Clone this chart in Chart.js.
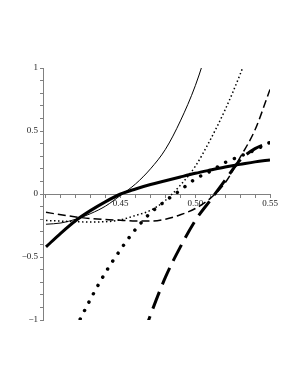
<!DOCTYPE html>
<html>
<head>
<meta charset="utf-8">
<script src="https://cdn.jsdelivr.net/npm/chart.js@4/dist/chart.umd.min.js"></script>
<style>
  html, body { margin: 0; padding: 0; background: #fff; }
  #wrap { width: 300px; height: 388px; }
</style>
</head>
<body>
<div id="wrap"><canvas id="plot" width="300" height="388"></canvas></div>
<script>
const xs = [0.40, 0.41, 0.42, 0.43, 0.44, 0.45, 0.46, 0.47, 0.48, 0.49, 0.50, 0.51, 0.52, 0.53, 0.54, 0.55];

const thinSolid = [-0.24, -0.23, -0.20, -0.155, -0.095, -0.01, 0.08, 0.20, 0.355, 0.58, 0.86, 1.22, null, null, null, null];
const fineDotted = [-0.21, -0.215, -0.22, -0.222, -0.22, -0.205, -0.17, -0.13, -0.05, 0.07, 0.22, 0.43, 0.67, 0.95, 1.27, null];
const thinDashed = [-0.145, -0.165, -0.182, -0.195, -0.203, -0.208, -0.215, -0.215, -0.20, -0.165, -0.115, -0.035, 0.09, 0.29, 0.51, 0.83];
const thickSolid = [-0.42, -0.31, -0.21, -0.13, -0.06, 0.0, 0.04, 0.075, 0.105, 0.135, 0.164, 0.19, 0.215, 0.235, 0.255, 0.27];
const thickDotted = [null, null, -1.06, -0.83, -0.62, -0.44, -0.28, -0.15, -0.055, 0.03, 0.12, 0.18, 0.25, 0.30, 0.35, 0.41];
const thickDashed = [null, null, null, null, null, null, -1.3, -0.96, -0.66, -0.42, -0.21, -0.05, 0.11, 0.27, 0.36, 0.41];

const xTicks = [0.40, 0.41, 0.42, 0.43, 0.44, 0.45, 0.46, 0.47, 0.48, 0.49, 0.50, 0.51, 0.52, 0.53, 0.54, 0.55];
const xLabelVals = [0.45, 0.50, 0.55];
const xLabelText = ["0.45", "0.50", "0.55"];

const yTicks = [-1, -0.9, -0.8, -0.7, -0.6, -0.5, -0.4, -0.3, -0.2, -0.1, 0, 0.1, 0.2, 0.3, 0.4, 0.5, 0.6, 0.7, 0.8, 0.9, 1];
const yLabelVals = [-1, -0.5, 0, 0.5, 1];
const yLabelText = ["\u22121", "\u22120.5", "0", "0.5", "1"];

const AXIS_GREY = "#808080";
const TEXT = "#222";
const FONT = { family: "'Liberation Serif', 'DejaVu Serif', serif", size: 9 };

function points(values) {
  return xs.map((x, i) => ({ x, y: values[i] }));
}

function labelFor(value, vals, texts) {
  for (let i = 0; i < vals.length; i++) {
    if (Math.abs(value - vals[i]) < 1e-6) return texts[i];
  }
  return "";
}

function line(values, width, dash, cap) {
  return {
    data: points(values),
    borderColor: "#000",
    borderWidth: width,
    borderDash: dash,
    borderCapStyle: cap || "butt",
    pointRadius: 0,
    cubicInterpolationMode: "monotone",
    spanGaps: false,
    fill: false,
  };
}

new Chart(document.getElementById("plot"), {
  type: "line",
  data: {
    datasets: [
      line(thinSolid, 1, []),
      line(fineDotted, 1.5, [1.5, 2.5]),
      line(thinDashed, 1.5, [8, 4]),
      line(thickSolid, 3, []),
      line(thickDotted, 3.5, [0.01, 9.5], "round"),
      line(thickDashed, 3, [18, 8]),
    ],
  },
  options: {
    responsive: false,
    animation: false,
    events: [],
    layout: { padding: { left: 0, right: 30, top: 68, bottom: 68 } },
    plugins: { legend: { display: false }, tooltip: { enabled: false } },
    scales: {
      x: {
        type: "linear",
        min: 0.398,
        max: 0.55,
        position: { y: 0 },
        afterFit: (scale) => { scale.height = 0; },
        afterBuildTicks: (scale) => { scale.ticks = xTicks.map((v) => ({ value: v })); },
        grid: { display: true, drawOnChartArea: false, drawTicks: true, tickLength: 3, color: AXIS_GREY },
        border: { display: true, color: AXIS_GREY, width: 1 },
        ticks: {
          autoSkip: false,
          maxRotation: 0,
          padding: 1,
          color: TEXT,
          font: FONT,
          callback: (v) => labelFor(v, xLabelVals, xLabelText),
        },
      },
      y: {
        type: "linear",
        min: -1,
        max: 1,
        position: "left",
        afterFit: (scale) => { scale.width = 43; },
        afterBuildTicks: (scale) => { scale.ticks = yTicks.map((v) => ({ value: v })); },
        grid: { display: true, drawOnChartArea: false, drawTicks: true, tickLength: 3, color: AXIS_GREY },
        border: { display: true, color: AXIS_GREY, width: 1 },
        ticks: {
          autoSkip: false,
          padding: 2,
          color: TEXT,
          font: FONT,
          callback: (v) => labelFor(v, yLabelVals, yLabelText),
        },
      },
    },
  },
});
</script>
</body>
</html>
